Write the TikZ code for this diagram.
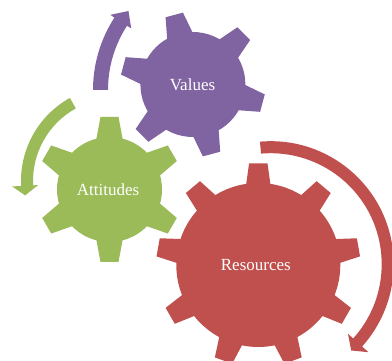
\documentclass[tikz,border=0pt]{standalone}
\usepackage{fontspec}
\setmainfont{Liberation Serif}
\usetikzlibrary{calc}
\definecolor{gpurple}{HTML}{8064A2}
\definecolor{ggreen}{HTML}{9BBB59}
\definecolor{gred}{HTML}{C0504D}
% #1 center, #2 teeth, #3 offset angle, #4 root radius, #5 outer radius, #6 base half width, #7 tip half width, #8 colour
\newcommand{\mygear}[8]{%
  \fill[#8] (#1) circle[radius=#4pt];
  \foreach \k in {1,...,#2}{
    \pgfmathsetmacro{\ang}{#3+360/#2*(\k-1)}
    \fill[#8, shift={(#1)}, rotate=\ang] (#4-4,-#6) -- (#5,-#7) -- (#5,#7) -- (#4-4,#6) -- cycle;
  }%
}
\tikzset{gtext/.style={text=white, font=\fontsize{17}{20}\selectfont, inner sep=0pt}}
\begin{document}
\begin{tikzpicture}[x=1pt,y=1pt]
\useasboundingbox (0,0) rectangle (392,361);
% centres
\coordinate (gv) at (192.9,276.5);
\coordinate (ga) at (109.5,171.5);
\coordinate (gr) at (258.3,96);
\coordinate (pc) at (226,271);
\coordinate (gc) at (116,180);
\coordinate (rc) at (270.7,96.8);
% circular arrows
\fill[gpurple] ($(pc)+(180:118pt)$) -- ($(pc)+(180:133pt)$) arc[start angle=180, end angle=147, radius=133pt]
  -- ($(pc)+(147:138pt)$) -- ($(pc)+(141:125.5pt)$) -- ($(pc)+(147:113pt)$) -- ($(pc)+(147:118pt)$)
  arc[start angle=147, end angle=180, radius=118pt] -- cycle;
\fill[ggreen] ($(gc)+(119:83pt)$) -- ($(gc)+(119:95pt)$) arc[start angle=119, end angle=183, radius=95pt]
  -- ($(gc)+(183:104pt)$) -- ($(gc)+(189:92pt)$) -- ($(gc)+(183:78pt)$) -- ($(gc)+(183:83pt)$)
  arc[start angle=183, end angle=119, radius=83pt] -- cycle;
\fill[gred] ($(rc)+(95:111pt)$) -- ($(rc)+(95:123pt)$) arc[start angle=95, end angle=-42, radius=123pt]
  -- ($(rc)+(-42:131.5pt)$) -- ($(rc)+(-47:118pt)$) -- ($(rc)+(-42:104pt)$) -- ($(rc)+(-42:111pt)$)
  arc[start angle=-42, end angle=95, radius=111pt] -- cycle;
% gears
\mygear{gv}{6}{45}{52.5}{72}{13.5}{9}{gpurple}
\mygear{ga}{6}{90}{52.5}{72.5}{13.5}{9}{ggreen}
\mygear{gr}{9}{90}{82}{101.7}{12.5}{9.2}{gred}
% labels
\node[gtext] (values) at (192.5,276) {Values};
\node[gtext] (attitudes) at (108,171) {Attitudes};
\node[gtext] (resources) at (255.8,96) {Resources};
\end{tikzpicture}
\end{document}
